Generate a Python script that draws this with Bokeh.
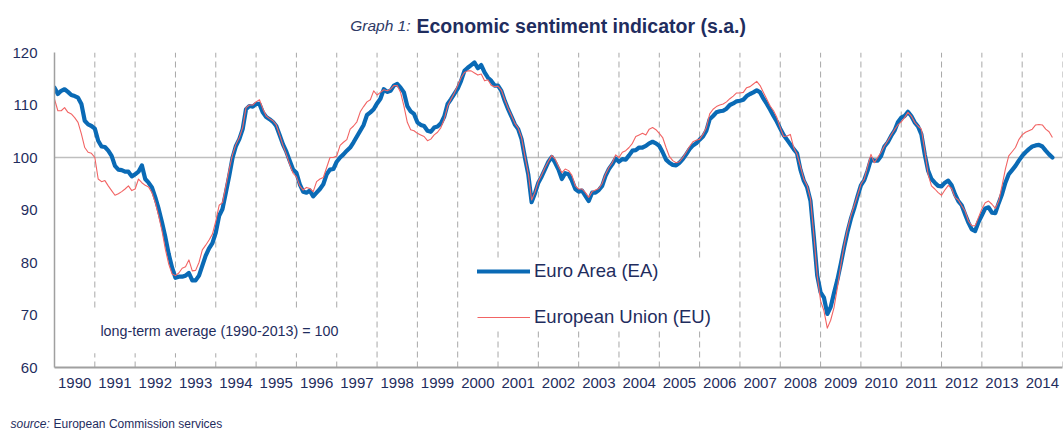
from bokeh.plotting import figure
from bokeh.layouts import column
from bokeh.models import Label, Legend, FixedTicker, Range1d
from bokeh.core.properties import value
from bokeh.embed import file_html
from bokeh.resources import INLINE

# ---------------- data (monthly, Jan 1990 onward) ----------------
start_year = 1990
years = list(range(1990, 2015))          # tick labels 1990..2014
year_lines = list(range(1991, 2016))     # dashed year separators

ea_1990_1994 = [113.3,112.1,112.7,113.0,112.5,111.9,111.7,111.4,110.2,107.0,106.3,106.0,
                105.5,103.2,102.1,102.0,101.3,100.3,98.4,97.7,97.6,97.3,97.3,96.4,
                96.8,97.3,98.5,95.9,95.2,94.3,92.4,90.2,87.6,84.8,81.6,79.0,
                77.1,77.3,77.3,77.5,78.0,76.6,76.6,77.5,79.4,81.3,82.7,83.7,
                85.7,88.9]
ea_1994_1998 = [90.2,93.3,96.5,100.0,102.2,103.5,105.4,109.2,109.8,109.7,
                110.2,110.2,108.6,107.7,107.3,106.8,106.0,104.3,102.5,101.1,99.4,97.7,
                97.1,94.9,93.5,93.3,93.7,92.6,93.3,94.0,94.9,96.8,97.7,97.8,
                99.2,100.0,100.6,101.3,101.9,102.9,104.0,105.1,106.2,108.1,108.6,109.2,
                110.3,111.2]
ea_1998_2002 = [113.0,112.5,112.7,113.7,114.0,113.3,112.4,109.8,108.8,108.3,
                106.7,106.2,106.0,105.1,104.9,105.7,105.9,106.5,107.8,110.2,111.1,112.1,
                113.1,114.6,116.5,117.1,117.6,118.1,117.0,117.6,116.2,115.2,114.6,113.7,
                113.7,112.7,110.8,109.2,107.8,106.3,105.4,103.5,100.0,96.8,91.5,93.2,
                95.2,96.4,97.8]
ea_2002_2006 = [99.2,100.1,99.0,97.7,95.9,97.0,96.8,95.6,94.0,
                93.5,93.7,92.7,91.7,93.3,93.3,93.8,94.6,96.5,97.8,98.7,99.8,
                99.2,99.7,99.6,100.4,101.3,101.4,101.9,101.9,102.2,102.7,103.0,102.7,
                102.2,101.0,99.6,99.0,98.6,98.5,99.0,99.7,100.6,101.6,102.3,102.7,
                103.4,104.0,105.1,107.3]
ea_2006_2010 = [107.9,108.6,108.8,108.9,109.3,110.0,110.3,110.7,
                110.8,111.0,111.7,112.1,112.4,112.8,112.4,111.2,110.2,109.1,107.9,106.8,
                105.5,104.3,103.4,102.5,101.6,100.8,97.7,95.6,94.3,91.7,84.8,77.5,
                74.3,73.3,70.2,71.5,74.2,76.7,79.7,82.9,85.8,88.3,90.3,92.6,
                94.7,95.7,97.5,99.7,99.4]
ea_2010_2014 = [99.4,100.3,102.1,102.9,104.1,105.1,106.7,
                107.6,107.9,108.7,107.9,106.7,105.9,104.4,100.6,97.5,95.9,95.2,94.6,
                94.5,95.2,95.6,94.7,93.0,91.7,90.9,89.2,87.6,86.3,86.0,87.7,
                89.0,90.3,90.5,89.5,89.4,91.3,93.0,95.2,96.8,97.6,98.4,99.4,
                100.3,101.0,101.6,102.1,102.3,102.4,102.1,101.3,100.6,100.0]

eu_1990_1994 = [111.1,108.9,108.9,109.5,108.6,108.3,107.6,106.7,104.5,101.9,101.0,100.8,
                100.0,95.9,95.4,95.6,94.6,93.7,92.8,93.1,93.5,94.0,94.6,93.7,
                94.0,95.9,95.2,94.7,94.4,93.3,91.4,88.9,86.0,82.5,79.7,77.8,
                77.5,78.0,78.9,79.2,80.5,78.4,78.5,80.0,82.4,83.3,84.3,85.4,
                87.9,90.9]
eu_1994_1998 = [91.4,94.6,97.8,100.6,102.5,103.8,105.7,109.5,110.0,110.0,
                110.6,111.0,109.3,107.9,107.4,107.0,106.2,104.3,102.3,100.6,98.7,97.0,
                96.3,94.6,93.8,94.3,94.1,93.5,95.4,95.9,96.2,98.1,100.0,100.0,
                100.3,102.3,102.9,103.4,105.4,106.0,106.8,108.7,109.7,110.6,111.0,112.7,
                111.9,112.4]
eu_1998_2002 = [112.9,112.7,113.0,113.7,113.7,112.4,109.8,106.7,105.3,105.1,
                104.6,104.3,104.0,103.2,103.5,104.3,104.8,105.7,107.3,109.8,111.1,112.3,
                113.7,115.2,116.2,116.5,116.5,116.1,115.7,115.9,114.6,114.8,113.7,113.5,
                113.6,112.8,111.0,109.4,108.0,106.5,105.6,103.8,100.2,96.9,91.9,93.4,
                95.5,96.7,98.1]
eu_2002_2006 = [99.3,100.4,99.7,98.3,97.1,97.8,97.5,96.6,94.6,
                94.0,94.0,93.3,92.4,93.5,93.8,94.1,95.1,96.8,98.1,99.0,100.5,
                100.0,101.0,101.3,101.9,102.7,104.0,104.3,104.6,104.3,105.4,105.7,105.3,
                104.6,103.8,101.9,100.2,99.4,99.0,99.2,100.0,101.0,102.1,103.0,103.3,
                103.5,104.4,105.7,108.3]
eu_2006_2010 = [109.2,109.7,110.0,110.2,110.6,111.2,111.7,112.3,
                112.3,112.4,113.3,113.5,114.0,114.5,113.7,112.4,111.1,109.8,108.9,107.6,
                105.7,104.0,104.1,104.4,101.9,100.6,98.3,95.9,94.6,92.1,85.1,77.5,
                72.7,70.8,67.5,69.0,71.4,75.2,79.4,83.2,86.3,88.9,90.8,92.8,
                94.9,95.9,98.3,100.6,99.0]
eu_2010_2014 = [100.0,101.0,102.2,103.2,104.3,105.3,106.2,
                106.8,107.6,108.6,107.9,106.7,106.0,105.4,101.3,96.8,94.6,94.0,93.3,
                92.8,93.8,94.7,94.1,92.4,91.9,90.8,89.8,87.9,87.0,87.0,88.6,
                90.2,91.4,91.7,91.1,90.3,91.7,94.6,97.8,100.3,101.1,101.9,103.4,
                104.3,104.8,105.1,105.4,106.2,106.3,106.2,105.4,104.9,103.8]

ea = ea_1990_1994 + ea_1994_1998 + ea_1998_2002 + ea_2002_2006 + ea_2006_2010 + ea_2010_2014
eu = eu_1990_1994 + eu_1994_1998 + eu_1998_2002 + eu_2002_2006 + eu_2006_2010 + eu_2010_2014
x_ea = [start_year + i / 12 for i in range(len(ea))]
x_eu = [start_year + i / 12 for i in range(len(eu))]

y_ticks = [60, 70, 80, 90, 100, 110, 120]

title_parts = ["Graph 1:", "Economic  sentiment  indicator  (s.a.)"]
source_parts = ["source:", "European Commission services"]
note_text = "long-term average (1990-2013) = 100"

# ---------------- styling ----------------
NAVY = "#1F2D5E"
FONT = "Liberation Sans"
BLUE = "#0A6AB5"
RED = "#F26464"
W = 1064


def text_strip(h):
    f = figure(width=W, height=h, x_range=Range1d(0, W), y_range=Range1d(0, h),
               output_backend="svg", toolbar_location=None,
               x_axis_location=None, y_axis_location=None, frame_align=False,
               min_border=0, min_border_left=0, min_border_right=0,
               min_border_top=0, min_border_bottom=0)
    f.grid.visible = False
    f.outline_line_color = None
    f.background_fill_color = "white"
    f.border_fill_color = "white"
    return f


# title strip
pt = text_strip(44)
pt.text(x=[410, 416], y=[19, 19], text=title_parts,
        text_align=["right", "left"], text_baseline="middle",
        text_font=value(FONT), text_font_style=["italic", "bold"],
        text_font_size=["15.5px", "19.5px"], text_color=["#2E3A66", NAVY])

# main chart
p = figure(width=W, height=363, x_range=(1990, 2015), y_range=(60, 120),
           output_backend="svg", toolbar_location=None, frame_align=False,
           min_border_left=54, min_border_right=2, min_border_top=8, min_border_bottom=40)
p.outline_line_color = None
p.background_fill_color = "white"
p.border_fill_color = "white"

p.xgrid.visible = False
p.ygrid.ticker = FixedTicker(ticks=[100])
p.ygrid.grid_line_color = "#BFBFBF"
p.ygrid.grid_line_width = 1.5

p.segment(x0=year_lines, y0=[y_ticks[0]] * len(year_lines),
          x1=year_lines, y1=[y_ticks[-1]] * len(year_lines),
          line_color="#A8A8A8", line_width=1, line_dash="6 4")

r_ea = p.line(x_ea, ea, line_color=BLUE, line_width=4.2, line_join="round", line_cap="round")
r_eu = p.line(x_eu, eu, line_color=RED, line_width=1.1, line_join="round")

p.xaxis.ticker = FixedTicker(ticks=[y + 0.5 for y in years])
p.xaxis.major_label_overrides = {y + 0.5: str(y) for y in years}
p.yaxis.ticker = FixedTicker(ticks=y_ticks)
for ax in (p.xaxis[0], p.yaxis[0]):
    ax.major_tick_line_color = None
    ax.minor_tick_line_color = None
    ax.major_tick_out = 0
    ax.major_tick_in = 0
    ax.axis_line_color = "#A0A0A0"
    ax.major_label_text_font = FONT
    ax.major_label_text_font_size = "15px"
    ax.major_label_text_color = NAVY
p.xaxis.axis_line_width = 2
p.yaxis.axis_line_width = 1.5
p.xaxis.major_label_standoff = 10
p.yaxis.major_label_standoff = 17

legend = Legend(items=[("Euro Area (EA)", [r_ea]), ("European Union (EU)", [r_eu])],
                location=(423, 39), orientation="vertical",
                padding=22, spacing=24, margin=0,
                glyph_width=53, glyph_height=22, label_height=22, label_standoff=4,
                label_text_font=FONT, label_text_font_size="18.5px",
                label_text_color=NAVY, label_text_baseline="middle",
                background_fill_color="white", background_fill_alpha=1.0,
                border_line_color=None)
p.add_layout(legend)

p.add_layout(Label(x=1994.09, y=66.9, text=note_text,
                   text_align="center", text_baseline="middle",
                   text_font=FONT, text_font_size="14.3px", text_color=NAVY,
                   background_fill_color="white", background_fill_alpha=1.0, padding=14))

# source strip
ps = text_strip(23)
ps.text(x=[10, 53], y=[7, 7], text=source_parts,
        text_align="left", text_baseline="middle",
        text_font=value(FONT), text_font_style=["italic", "normal"],
        text_font_size="12px", text_color=NAVY)

layout = column(pt, p, ps, spacing=0)
open("out.html", "w").write(file_html(layout, INLINE))
